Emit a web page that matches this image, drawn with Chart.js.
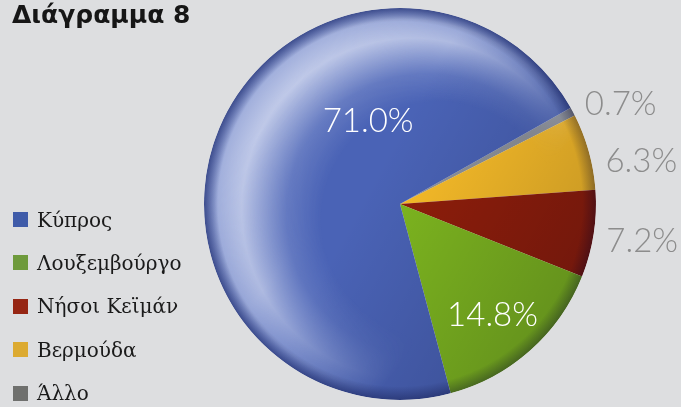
<!DOCTYPE html>
<html>
<head>
<meta charset="utf-8">
<script src="https://cdn.jsdelivr.net/npm/chart.js@4.4.1/dist/chart.umd.min.js"></script>
<style>
  html, body { margin: 0; padding: 0; background: #dddee0; }
  #wrap { position: relative; width: 681px; height: 407px; overflow: hidden; }
  #chartCanvas { position: absolute; left: 0; top: 0; }
  #title { position: absolute; left: 12px; top: 0px; font: bold 25px "DejaVu Sans", sans-serif; color: #161616; }
  .item { position: absolute; left: 13px; height: 15px; display: flex; align-items: center; }
  .box { width: 15px; height: 15px; margin-right: 9px; }
  .txt { font: 20px "DejaVu Serif", serif; color: #1a1a1a; white-space: nowrap; }
</style>
</head>
<body>
<div id="wrap">
  <canvas id="chartCanvas" width="681" height="407"></canvas>
  <div id="title">Διάγραμμα 8</div>
  <div id="legend"></div>
</div>
<script>
// data, in legend order
const categories = ['Κύπρος', 'Λουξεμβούργο', 'Νήσοι Κεϊμάν', 'Βερμούδα', 'Άλλο'];
const shares = [71.0, 14.8, 7.2, 6.3, 0.7];
const shareLabels = ['71.0%', '14.8%', '7.2%', '6.3%', '0.7%'];

// styles
const legendColors = ['#3f5ba9', '#6e9a3c', '#962614', '#dcaa31', '#6f706e'];
const sliceColors = ['#4a63b6', '#7fb81f', '#911e0a', '#fabe28', '#8f949c'];
const labelColors = ['#ffffff', '#ffffff', '#8c8c8c', '#8c8c8c', '#8c8c8c'];
// [angle nudge in degrees, distance as share of radius]
const labelSpots = [[46, 0.45], [2, 0.74], [0, 1.25], [5.5, 1.25], [3.9, 1.235]];

// slices go counter-clockwise in the picture, so feed them reversed
const order = categories.map((c, i) => i).reverse();

// legend
const legend = document.getElementById('legend');
categories.forEach((name, i) => {
  const row = document.createElement('div');
  row.className = 'item';
  row.style.top = (212 + i * 43.4) + 'px';
  row.innerHTML = '<div class="box" style="background:' + legendColors[i] + '"></div><div class="txt">' + name + '</div>';
  legend.appendChild(row);
});

// light crescent along the upper left
function crescent(w, h, cx, cy, r) {
  const c = document.createElement('canvas');
  c.width = w;
  c.height = h;
  const g = c.getContext('2d');
  const ring = g.createRadialGradient(cx + r * 0.2, cy + r * 0.08, r * 0.6, cx, cy, r);
  ring.addColorStop(0, 'rgba(225,230,246,0)');
  ring.addColorStop(0.3, 'rgba(225,230,246,0.2)');
  ring.addColorStop(0.68, 'rgba(225,230,246,0.78)');
  ring.addColorStop(0.88, 'rgba(222,228,246,0.6)');
  ring.addColorStop(1, 'rgba(210,218,244,0.12)');
  g.fillStyle = ring;
  g.fillRect(0, 0, w, h);
  g.globalCompositeOperation = 'destination-in';
  const mask = g.createLinearGradient(cx - r * 0.8, cy - r * 0.3, cx + r * 0.25, cy + r * 0.5);
  mask.addColorStop(0, 'rgba(0,0,0,1)');
  mask.addColorStop(0.4, 'rgba(0,0,0,0.85)');
  mask.addColorStop(1, 'rgba(0,0,0,0)');
  g.fillStyle = mask;
  g.fillRect(0, 0, w, h);
  return c;
}

// shaded "ball" fill for each colour
const shadeCache = {};
function shadedFill(chart, color) {
  const area = chart.chartArea;
  if (!area) return color;
  const key = color + area.left + area.top + area.width + area.height;
  if (shadeCache[key]) return shadeCache[key];
  const cx = (area.left + area.right) / 2;
  const cy = (area.top + area.bottom) / 2;
  const r = Math.min(area.width, area.height) / 2;
  const off = document.createElement('canvas');
  off.width = chart.canvas.width;
  off.height = chart.canvas.height;
  const g = off.getContext('2d');
  g.beginPath();
  g.arc(cx, cy, r, 0, Math.PI * 2);
  g.fillStyle = color;
  g.fill();
  g.save();
  g.clip();
  // darker towards the right
  const lin = g.createLinearGradient(cx - r * 0.1, cy - r * 0.2, cx + r, cy + r * 0.4);
  lin.addColorStop(0, 'rgba(0,0,20,0)');
  lin.addColorStop(1, 'rgba(0,0,20,0.22)');
  g.fillStyle = lin;
  g.fillRect(0, 0, off.width, off.height);
  g.drawImage(crescent(off.width, off.height, cx, cy, r), 0, 0);
  // thin darker rim
  const rim = g.createRadialGradient(cx, cy, 0, cx, cy, r);
  rim.addColorStop(0, 'rgba(0,0,40,0)');
  rim.addColorStop(0.93, 'rgba(0,0,40,0)');
  rim.addColorStop(1, 'rgba(0,0,40,0.32)');
  g.fillStyle = rim;
  g.fillRect(0, 0, off.width, off.height);
  g.restore();
  const pat = chart.ctx.createPattern(off, 'no-repeat');
  shadeCache[key] = pat;
  return pat;
}

// percentage labels
const sliceLabels = {
  id: 'sliceLabels',
  afterDatasetsDraw(chart) {
    const ctx = chart.ctx;
    const meta = chart.getDatasetMeta(0);
    ctx.save();
    ctx.font = '300 33px Lato, "Open Sans", sans-serif';
    ctx.textAlign = 'center';
    ctx.textBaseline = 'middle';
    meta.data.forEach((arc, j) => {
      const i = order[j];
      const p = arc.getProps(['x', 'y', 'startAngle', 'endAngle', 'outerRadius'], true);
      const a = (p.startAngle + p.endAngle) / 2 + labelSpots[i][0] * Math.PI / 180;
      const d = p.outerRadius * labelSpots[i][1];
      ctx.fillStyle = labelColors[i];
      ctx.fillText(shareLabels[i], p.x + Math.cos(a) * d, p.y + Math.sin(a) * d);
    });
    ctx.restore();
  }
};

const ctx = document.getElementById('chartCanvas').getContext('2d');
new Chart(ctx, {
  type: 'pie',
  data: {
    labels: order.map(i => categories[i]),
    datasets: [{
      data: order.map(i => shares[i]),
      backgroundColor: c => shadedFill(c.chart, sliceColors[order[c.dataIndex]]),
      borderWidth: 0
    }]
  },
  options: {
    responsive: false,
    devicePixelRatio: 1,
    animation: false,
    rotation: 60.6,
    layout: { padding: { left: 204, right: 85, top: 8, bottom: 7 } },
    plugins: {
      legend: { display: false },
      tooltip: { enabled: false }
    }
  },
  plugins: [sliceLabels]
});
</script>
</body>
</html>
